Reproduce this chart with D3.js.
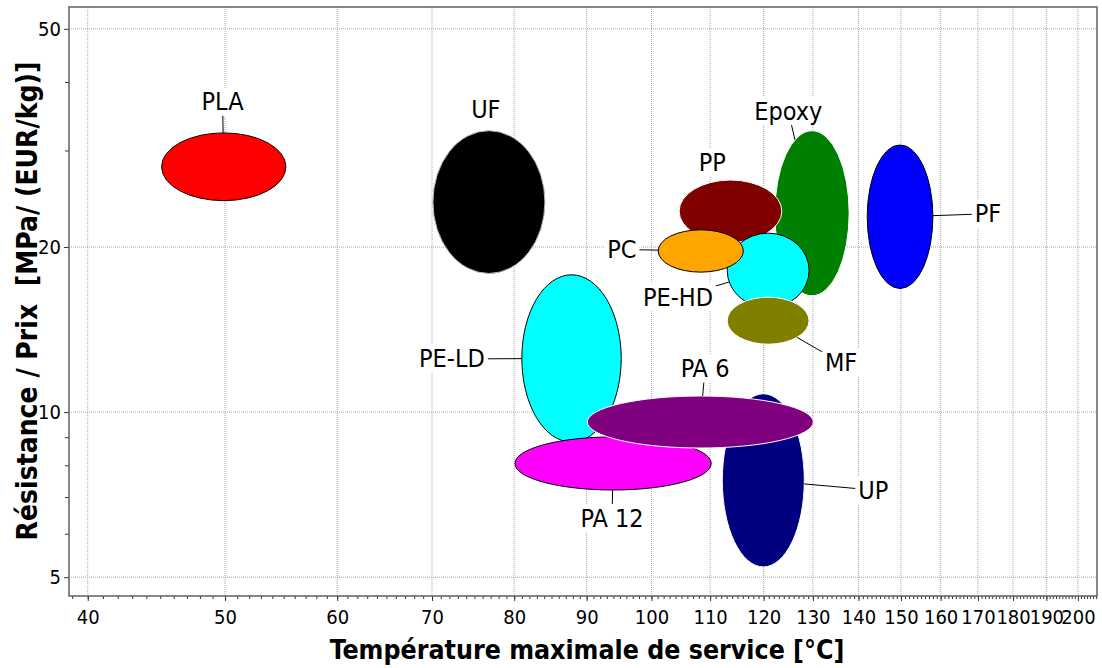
<!DOCTYPE html>
<html>
<head>
<meta charset="utf-8">
<script src="https://cdn.jsdelivr.net/npm/d3@7"></script>
<style>
  html, body { margin: 0; padding: 0; background: #fff; }
  svg { display: block; }
  text { font-family: "DejaVu Sans Condensed", "DejaVu Sans", sans-serif; }
</style>
</head>
<body>
<svg id="chart" width="1102" height="668"></svg>
<script>
// ---- Data (temperature in °C, strength/price in MPa/(EUR/kg)) ----
const materials = ["Epoxy", "PP", "PE-HD", "PC", "MF", "PLA", "UF", "PF", "PE-LD", "UP", "PA 12", "PA 6"];
const tempMin   = [122.2, 104.6, 113.1, 101.1, 113.1, 45.1, 70.1, 142.0, 81.0, 112.2, 80.1, 90.1];
const tempMax   = [137.9, 123.6, 129.2, 116.1, 129.2, 55.2, 84.1, 158.0, 95.2, 128.2, 110.2, 130.1];
const ratioMin  = [16.3, 20.4, 15.5, 18.0, 13.3, 24.3, 17.9, 16.8, 8.82, 5.22, 7.21, 8.60];
const ratioMax  = [32.6, 26.5, 21.2, 21.5, 16.2, 32.3, 32.6, 30.7, 17.8, 10.8, 9.01, 10.7];
const fillColors   = ["#008000", "#800000", "#00ffff", "#ffa500", "#808000", "#ff0000", "#000000", "#0000ff", "#00ffff", "#000080", "#ff00ff", "#800080"];
const strokeColors = ["#ffffff", "#ffffff", "#000000", "#000000", "#ffffff", "#000000", "#bbbbbb", "#000000", "#000000", "#ffffff", "#000000", "#ffffff"];
// label anchor positions (data units)
const labelTemp  = [124.9, 110.4, 104.4, 95.3, 136.1, 49.8, 76.4, 172.8, 72.3, 143.4, 93.8, 109.1];
const labelRatio = [35.4, 28.5, 16.2, 19.8, 12.3, 36.8, 35.6, 23.0, 12.5, 7.21, 6.41, 12.0];

const xMajorTicks = [40, 50, 60, 70, 80, 90, 100, 110, 120, 130, 140, 150, 160, 170, 180, 190, 200];
const yMajorTicks = [5, 10, 20, 50];
const yMinorTicks = [6, 7, 8, 9, 30, 40];
const xMinorTicks = d3.range(39, 207, 1);

const xTitle = "Température maximale de service [°C]";
const yTitle = "Résistance / Prix\u00a0\u00a0[MPa/ (EUR/kg)]";

// ---- Layout ----
const svg = d3.select("#chart");
const plot = { left: 69, right: 1097, top: 7, bottom: 596 };
const FONT = '"DejaVu Sans Condensed", "DejaVu Sans", sans-serif';

const x = d3.scaleLog().domain([38.8, 206.3]).range([plot.left, plot.right]);
const y = d3.scaleLog().domain([4.62, 54.8]).range([plot.bottom, plot.top]);

// grid
const grid = svg.append("g").attr("class", "grid");
grid.selectAll("line.gx").data(xMajorTicks).join("line")
  .attr("x1", d => x(d)).attr("x2", d => x(d))
  .attr("y1", plot.top).attr("y2", plot.bottom)
  .attr("stroke", "#a8a8a8").attr("stroke-width", 1).attr("stroke-dasharray", "1,1");
grid.selectAll("line.gy").data(yMajorTicks).join("line")
  .attr("x1", plot.left).attr("x2", plot.right)
  .attr("y1", d => y(d)).attr("y2", d => y(d))
  .attr("stroke", "#a8a8a8").attr("stroke-width", 1).attr("stroke-dasharray", "1,1");

// ellipses
const data = materials.map((m, i) => {
  const x0 = x(tempMin[i]), x1 = x(tempMax[i]);
  const y0 = y(ratioMax[i]), y1 = y(ratioMin[i]);
  return {
    name: m,
    cx: (x0 + x1) / 2, cy: (y0 + y1) / 2,
    rx: (x1 - x0) / 2, ry: (y1 - y0) / 2,
    fill: fillColors[i], stroke: strokeColors[i],
    lx: x(labelTemp[i]), ly: y(labelRatio[i])
  };
});

svg.append("g").selectAll("ellipse").data(data).join("ellipse")
  .attr("cx", d => d.cx).attr("cy", d => d.cy)
  .attr("rx", d => d.rx).attr("ry", d => d.ry)
  .attr("fill", d => d.fill)
  .attr("stroke", d => d.stroke).attr("stroke-width", 1);

// labels with white boxes and leader lines
const labG = svg.append("g");
data.forEach(d => {
  const g = labG.append("g");
  const t = g.append("text")
    .attr("x", d.lx).attr("y", d.ly)
    .attr("text-anchor", "middle").attr("dominant-baseline", "central")
    .style("font-size", "25px").style("font-family", FONT).attr("fill", "#000").text(d.name);
  const bb = t.node().getBBox();
  const pad = 3;
  const bw = bb.width / 2 + pad, bh = 14;
  g.insert("rect", "text")
    .attr("x", d.lx - bw).attr("y", d.ly - bh)
    .attr("width", bw * 2).attr("height", bh * 2)
    .attr("fill", "#fff");
  const dx = d.cx - d.lx, dy = d.cy - d.ly;
  const tb = Math.min(dx !== 0 ? bw / Math.abs(dx) : Infinity, dy !== 0 ? bh / Math.abs(dy) : Infinity);
  const sx = d.lx + dx * tb, sy = d.ly + dy * tb;
  const k = 1 / Math.sqrt((dx / d.rx) ** 2 + (dy / d.ry) ** 2);
  const ex = d.cx - dx * k, ey = d.cy - dy * k;
  if (tb < 1 - k - 0.12) {
    g.append("line")
      .attr("x1", sx).attr("y1", sy).attr("x2", ex).attr("y2", ey)
      .attr("stroke", "#000").attr("stroke-width", 1);
  }
});

// axes
const xAxis = svg.append("g").attr("transform", `translate(0,${plot.bottom})`)
  .call(d3.axisBottom(x).tickValues(xMajorTicks).tickSize(5).tickPadding(9).tickFormat(d3.format("d")));
xAxis.select(".domain").remove();
xAxis.selectAll("text").style("font-size", "20px").style("font-family", FONT).attr("fill", "#000");
const xMinor = svg.append("g").attr("transform", `translate(0,${plot.bottom})`)
  .call(d3.axisBottom(x).tickValues(xMinorTicks.filter(v => v >= 38.8 && v <= 206.3)).tickSize(3).tickFormat(""));
xMinor.select(".domain").remove();

const yAxis = svg.append("g").attr("transform", `translate(${plot.left},0)`)
  .call(d3.axisLeft(y).tickValues(yMajorTicks).tickSize(5).tickPadding(3).tickFormat(d3.format("d")));
yAxis.select(".domain").remove();
yAxis.selectAll("text").style("font-size", "20px").style("font-family", FONT).attr("fill", "#000");
const yMinor = svg.append("g").attr("transform", `translate(${plot.left},0)`)
  .call(d3.axisLeft(y).tickValues(yMinorTicks).tickSize(4).tickFormat(""));
yMinor.select(".domain").remove();
svg.selectAll(".tick line").attr("stroke", "#333");

// frame
svg.append("rect")
  .attr("x", plot.left).attr("y", plot.top)
  .attr("width", plot.right - plot.left).attr("height", plot.bottom - plot.top)
  .attr("fill", "none").attr("stroke", "#606060").attr("stroke-width", 1.5);

// titles
svg.append("text")
  .attr("x", 587).attr("y", 659)
  .attr("text-anchor", "middle")
  .style("font-size", "26.5px").style("font-family", FONT).attr("font-weight", "bold").attr("fill", "#000")
  .text(xTitle);
svg.append("text")
  .attr("transform", "translate(37,301) rotate(-90)")
  .attr("text-anchor", "middle")
  .style("font-size", "28px").style("font-family", FONT).attr("font-weight", "bold").attr("fill", "#000")
  .text(yTitle);
</script>
</body>
</html>
